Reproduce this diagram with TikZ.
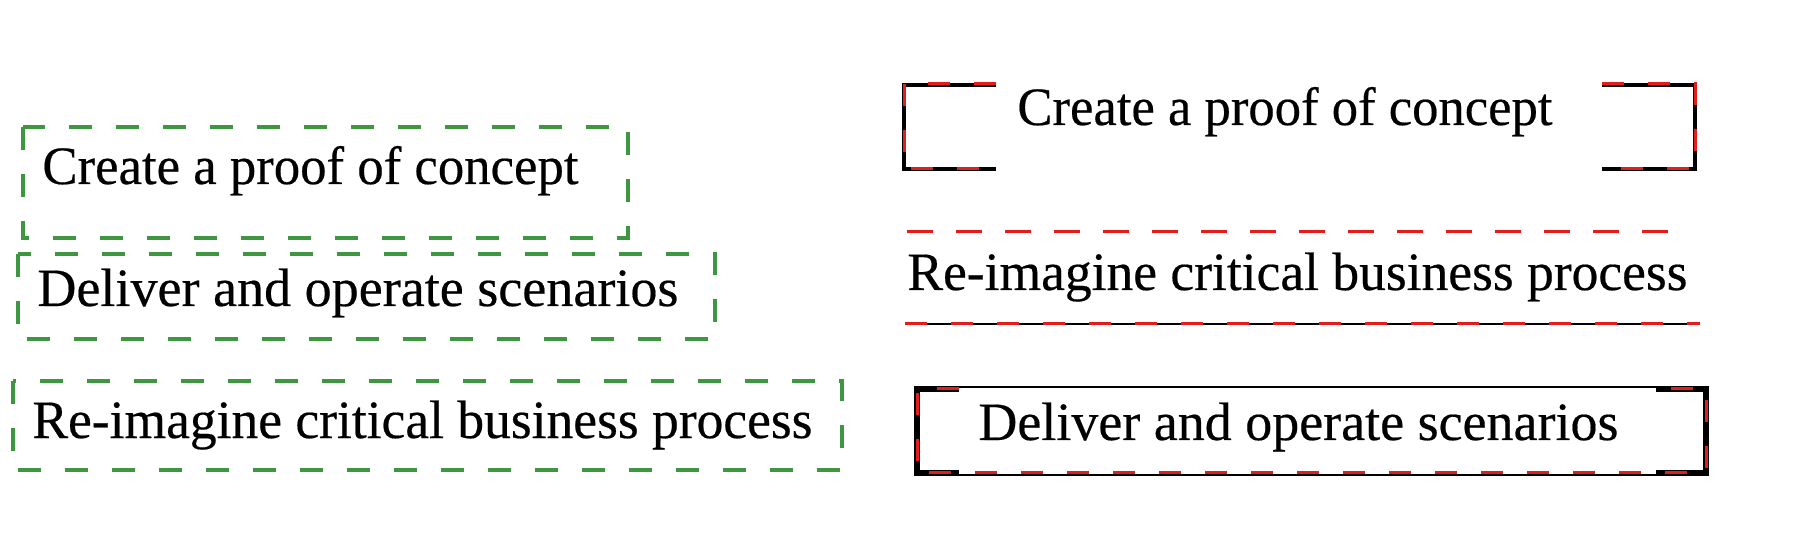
\documentclass[tikz,border=0pt]{standalone}
\usepackage{fontspec}
\usepackage{graphicx}
\setmainfont{Liberation Serif}
\newfontfamily\lblfont[FakeBold=0.35]{Liberation Serif}
\definecolor{boxgreen}{RGB}{62,150,62}
\definecolor{dashred}{RGB}{228,28,28}
\newcommand{\fitw}[2]{\resizebox{#1}{\height}{#2}}
\tikzset{
  lbl/.style={anchor=base west, inner sep=0pt, font=\lblfont\fontsize{27}{30}\selectfont},
  greenbox/.style={draw=boxgreen, line width=1.7pt, dash pattern=on 11.5pt off 12pt},
  blackthick/.style={draw=black, line width=2pt},
  blackthin/.style={draw=black, line width=1pt},
  reddash/.style={draw=dashred, line width=1.5pt, dash pattern=on 11pt off 12pt},
  redline/.style={draw=dashred, line width=1.5pt, dash pattern=on 13pt off 11.5pt}
}
\begin{document}
\begin{tikzpicture}[x=0.5pt,y=-0.5pt]
\useasboundingbox[fill=white] (0,0) rectangle (1808,544);
% left column: green dashed boxes
\draw[greenbox] (23,127) rectangle (628,238);
\node[lbl] (l1) at (42,184) {\fitw{268pt}{Create a proof of concept}};
\draw[greenbox] (18,254) rectangle (715,339);
\node[lbl] (l2) at (37,306) {\fitw{320.5pt}{Deliver and operate scenarios}};
\draw[greenbox] (13,381) rectangle (842,470);
\node[lbl] (l3) at (32,438) {\fitw{390pt}{Re-imagine critical business process}};
% right column: bracket box
\draw[blackthick] (996,85) -- (904,85) -- (904,169) -- (996,169);
\draw[blackthick] (1602,85) -- (1695,85) -- (1695,169) -- (1602,169);
\draw[reddash] (996,84) -- (904,84) -- (904,169) -- (996,169);
\draw[reddash] (1602,84) -- (1695,84) -- (1695,169) -- (1602,169);
\node[lbl] (r1) at (1017,125) {\fitw{267.5pt}{Create a proof of concept}};
% right column: lines
\draw[redline] (907,232) -- (1683,232);
\node[lbl] (r2) at (907,290) {\fitw{390pt}{Re-imagine critical business process}};
\draw[blackthin] (905,324) -- (1700,324);
\draw[reddash] (905,324) -- (1700,324);
% right column: framed box
\draw[blackthin] (915,387) rectangle (1708,475);
\draw[blackthick] (959,390) -- (918,390) -- (918,472) -- (959,472);
\draw[blackthick] (1656,390) -- (1705,390) -- (1705,472) -- (1656,472);
\draw[reddash] (959,389) -- (917,389) -- (917,473) -- (1706,473) -- (1706,389) -- (1656,389);
\node[lbl] (r3) at (978,440) {\fitw{320pt}{Deliver and operate scenarios}};
\end{tikzpicture}
\end{document}
